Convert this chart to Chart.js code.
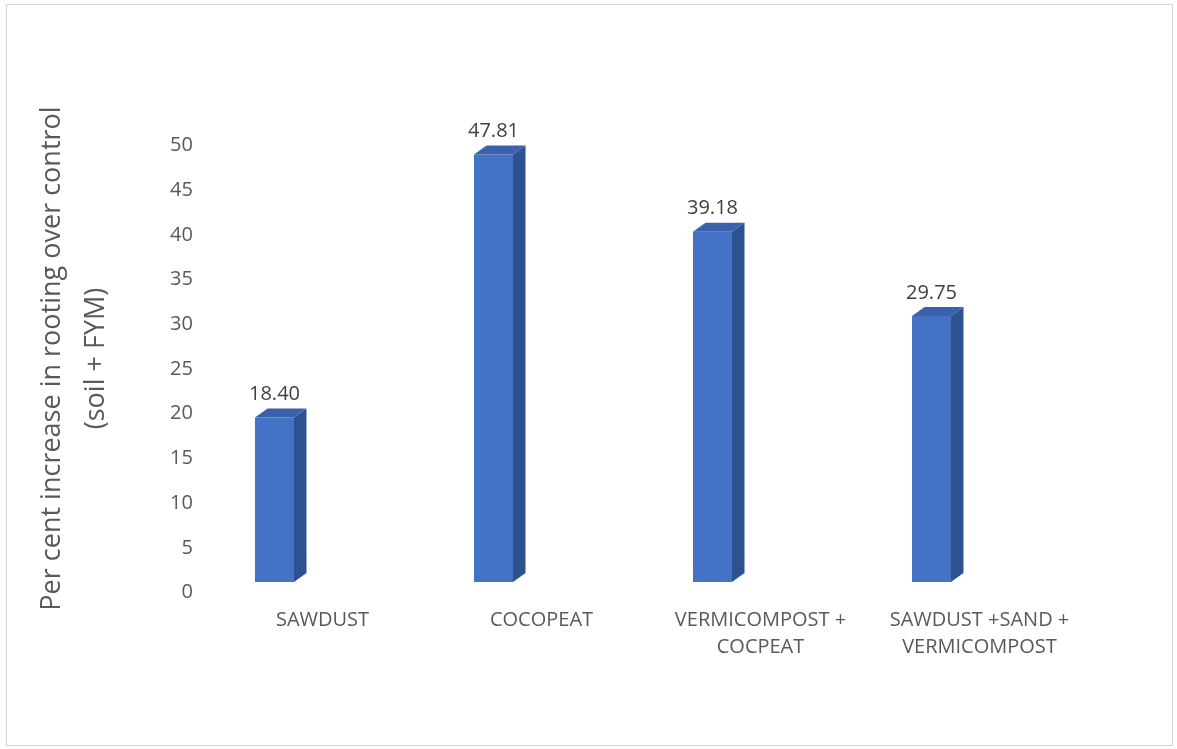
<!DOCTYPE html>
<html>
<head>
<meta charset="utf-8">
<title>Per cent increase in rooting over control</title>
<script src="https://cdn.jsdelivr.net/npm/chart.js@4/dist/chart.umd.min.js"></script>
<style>
  html, body { margin: 0; padding: 0; background: #ffffff; }
  #wrap { width: 1177px; height: 749px; }
</style>
</head>
<body>
<div id="wrap"><canvas id="chart" width="1177" height="749"></canvas></div>
<script>
// Rooting media and their per cent increase in rooting over control
const categories = [
  'SAWDUST',
  'COCOPEAT',
  ['VERMICOMPOST +', 'COCPEAT'],
  ['SAWDUST +SAND +', 'VERMICOMPOST']
];
const rootingIncrease = [18.40, 47.81, 39.18, 29.75];
const yTicks = [0, 5, 10, 15, 20, 25, 30, 35, 40, 45, 50];

const FONT = "'Open Sans', 'DejaVu Sans', sans-serif";
const FRONT = '#4472C4';
const SIDE = '#2E5190';
const TOP = '#3A62AC';
const DEPTH_X = 12.5;
const DEPTH_Y = 9;

// White page with a thin frame
const framePlugin = {
  id: 'frame',
  beforeDraw(chart) {
    const ctx = chart.ctx;
    ctx.save();
    ctx.fillStyle = '#ffffff';
    ctx.fillRect(0, 0, chart.width, chart.height);
    ctx.strokeStyle = '#d6d6d6';
    ctx.lineWidth = 1;
    ctx.strokeRect(6.5, 4.5, 1166, 741);
    ctx.restore();
  }
};

// Extrudes each bar: a darker right side and a top face
const bar3dPlugin = {
  id: 'bar3d',
  afterDatasetsDraw(chart) {
    const ctx = chart.ctx;
    chart.getDatasetMeta(0).data.forEach((bar) => {
      const { x, y, base, width } = bar.getProps(['x', 'y', 'base', 'width'], true);
      const l = x - width / 2;
      const r = x + width / 2;
      ctx.save();
      ctx.fillStyle = SIDE;
      ctx.beginPath();
      ctx.moveTo(r, y);
      ctx.lineTo(r + DEPTH_X, y - DEPTH_Y);
      ctx.lineTo(r + DEPTH_X, base - DEPTH_Y);
      ctx.lineTo(r, base);
      ctx.closePath();
      ctx.fill();
      ctx.fillStyle = TOP;
      ctx.beginPath();
      ctx.moveTo(l, y);
      ctx.lineTo(l + DEPTH_X, y - DEPTH_Y);
      ctx.lineTo(r + DEPTH_X, y - DEPTH_Y);
      ctx.lineTo(r, y);
      ctx.closePath();
      ctx.fill();
      ctx.restore();
    });
  }
};

// Value written above each bar
const valueLabelPlugin = {
  id: 'valueLabels',
  afterDatasetsDraw(chart) {
    const ctx = chart.ctx;
    const ds = chart.data.datasets[0];
    chart.getDatasetMeta(0).data.forEach((bar, i) => {
      const { x, y } = bar.getProps(['x', 'y'], true);
      ctx.save();
      ctx.font = '20px ' + FONT;
      ctx.fillStyle = '#404040';
      ctx.textAlign = 'center';
      ctx.textBaseline = 'middle';
      ctx.fillText(ds.data[i].toFixed(2), x, y - 23);
      ctx.restore();
    });
  }
};

new Chart(document.getElementById('chart'), {
  type: 'bar',
  data: {
    labels: categories,
    datasets: [{
      data: rootingIncrease,
      backgroundColor: FRONT,
      borderWidth: 0,
      categoryPercentage: 1,
      barPercentage: 0.178
    }]
  },
  plugins: [framePlugin, bar3dPlugin, valueLabelPlugin],
  options: {
    responsive: false,
    animation: false,
    layout: { padding: { top: 135, right: 136, bottom: 0, left: 0 } },
    plugins: {
      legend: { display: false },
      tooltip: { enabled: false }
    },
    scales: {
      x: {
        offset: true,
        grid: { display: false, drawTicks: false },
        border: { display: false },
        ticks: {
          color: '#595959',
          font: { family: FONT, size: 20, lineHeight: 1.35 },
          padding: 25,
          labelOffset: 48,
          maxRotation: 0,
          autoSkip: false
        },
        afterFit(scale) { scale.height = 167; }
      },
      y: {
        min: 0,
        max: 50,
        grid: { display: false, drawTicks: false },
        border: { display: false },
        afterBuildTicks(scale) { scale.ticks = yTicks.map(v => ({ value: v })); },
        ticks: {
          color: '#595959',
          font: { family: FONT, size: 20 },
          mirror: true,
          crossAlign: 'far',
          padding: 5,
          labelOffset: 10.5
        },
        title: {
          display: true,
          text: ['Per cent increase in rooting over control', '(soil + FYM)'],
          color: '#595959',
          font: { family: FONT, size: 27, lineHeight: 1.63 },
          padding: { top: 30, bottom: 0 }
        },
        afterFit(scale) { scale.width = 165; }
      }
    }
  }
});
</script>
</body>
</html>
